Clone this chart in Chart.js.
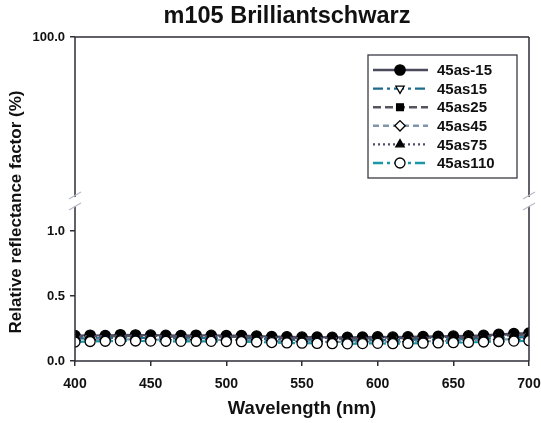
<!DOCTYPE html>
<html>
<head>
<meta charset="utf-8">
<script src="https://cdn.jsdelivr.net/npm/chart.js@4.4.1/dist/chart.umd.min.js"></script>
<style>
  html, body { margin: 0; padding: 0; background: #fff; }
  #wrap { width: 541px; height: 423px; position: relative; }
</style>
</head>
<body>
<div id="wrap"><canvas id="c" width="541" height="423"></canvas></div>
<script>
// Wavelengths (nm)
const wavelengths = [400, 410, 420, 430, 440, 450, 460, 470, 480, 490, 500, 510, 520, 530, 540, 550,
                     560, 570, 580, 590, 600, 610, 620, 630, 640, 650, 660, 670, 680, 690, 700];

// Relative reflectance factor per measurement geometry
const as_m15 = [0.195, 0.198, 0.196, 0.202, 0.200, 0.199, 0.197, 0.196, 0.198, 0.197, 0.195, 0.196, 0.192, 0.188, 0.186, 0.184,
                0.183, 0.182, 0.181, 0.183, 0.186, 0.184, 0.186, 0.188, 0.190, 0.191, 0.193, 0.197, 0.205, 0.210, 0.214];
const as_15  = [0.172, 0.176, 0.175, 0.179, 0.178, 0.177, 0.175, 0.174, 0.176, 0.175, 0.173, 0.173, 0.170, 0.166, 0.164, 0.162,
                0.160, 0.159, 0.158, 0.160, 0.162, 0.160, 0.162, 0.164, 0.166, 0.167, 0.169, 0.172, 0.178, 0.182, 0.185];
const as_25  = [0.185, 0.189, 0.187, 0.192, 0.191, 0.190, 0.188, 0.187, 0.189, 0.188, 0.186, 0.186, 0.183, 0.179, 0.177, 0.175,
                0.173, 0.172, 0.171, 0.173, 0.176, 0.174, 0.176, 0.178, 0.180, 0.181, 0.183, 0.187, 0.194, 0.199, 0.203];
const as_45  = [0.160, 0.164, 0.164, 0.167, 0.166, 0.165, 0.164, 0.163, 0.164, 0.163, 0.162, 0.161, 0.158, 0.154, 0.152, 0.150,
                0.148, 0.147, 0.146, 0.148, 0.150, 0.147, 0.149, 0.151, 0.153, 0.155, 0.157, 0.160, 0.165, 0.168, 0.171];
const as_75  = [0.190, 0.193, 0.191, 0.197, 0.195, 0.194, 0.192, 0.191, 0.193, 0.192, 0.190, 0.191, 0.187, 0.183, 0.181, 0.179,
                0.178, 0.177, 0.176, 0.178, 0.181, 0.179, 0.181, 0.183, 0.185, 0.186, 0.188, 0.192, 0.200, 0.205, 0.209];
const as_110 = [0.146, 0.150, 0.152, 0.155, 0.154, 0.153, 0.152, 0.151, 0.152, 0.151, 0.150, 0.149, 0.146, 0.142, 0.139, 0.137,
                0.135, 0.133, 0.132, 0.134, 0.136, 0.133, 0.135, 0.137, 0.139, 0.141, 0.143, 0.146, 0.150, 0.153, 0.156];

const seriesNames = ['45as-15', '45as15', '45as25', '45as45', '45as75', '45as110'];
const lowerTicks = [0.0, 0.5, 1.0];
const upperTicks = [100.0];
const xTicks = [400, 450, 500, 550, 600, 650, 700];

const FONT = "'Liberation Sans', Arial, Helvetica, sans-serif";
const AXIS = '#2e2e36';

function pts(vals) { return wavelengths.map((w, i) => ({ x: w, y: vals[i] })); }

const styles = [
  { data: as_m15, color: '#4a4a5c', dash: [],            point: 'circle',   rot: 0,   fill: '#000000', r: 5.2, order: 5 },
  { data: as_15,  color: '#1f6b8c', dash: [10, 4, 3, 4], point: 'triangle', rot: 180, fill: '#ffffff', r: 4.8, order: 4 },
  { data: as_25,  color: '#55555f', dash: [8, 4],        point: 'rect',     rot: 0,   fill: '#000000', r: 4.8, order: 3 },
  { data: as_45,  color: '#7f95a9', dash: [6, 4],        point: 'rectRot',  rot: 0,   fill: '#ffffff', r: 5.2, order: 2 },
  { data: as_75,  color: '#4c4c6e', dash: [2, 3],        point: 'triangle', rot: 0,   fill: '#000000', r: 4.8, order: 1 },
  { data: as_110, color: '#1a98a8', dash: [10, 4, 3, 4], point: 'circle',   rot: 0,   fill: '#ffffff', r: 5.0, order: 0 }
];

const datasets = styles.map((s, i) => ({
  label: seriesNames[i],
  data: pts(s.data),
  yAxisID: 'y',
  borderColor: s.color,
  borderWidth: 2.2,
  borderDash: s.dash,
  pointStyle: s.point,
  pointRotation: s.rot,
  pointRadius: s.r,
  pointBackgroundColor: s.fill,
  pointBorderColor: '#000000',
  pointBorderWidth: 1.3,
  tension: 0,
  order: s.order
}));

// Frame, axis break marks, titles and legend
const decor = {
  id: 'decor',
  afterDraw(chart) {
    const ctx = chart.ctx;
    const a = chart.chartArea;
    const yl = chart.scales.y;
    const breakY = yl.top;
    const gapTop = breakY - 8, gapBot = breakY + 1;
    ctx.save();
    ctx.strokeStyle = AXIS;
    ctx.lineWidth = 1.5;
    ctx.beginPath();
    // top edge
    ctx.moveTo(a.left, a.top); ctx.lineTo(a.right, a.top);
    // bottom edge
    ctx.moveTo(a.left, a.bottom); ctx.lineTo(a.right, a.bottom);
    // left and right edges, interrupted at the break
    [a.left, a.right].forEach(x => {
      ctx.moveTo(x, a.top); ctx.lineTo(x, gapTop);
      ctx.moveTo(x, gapBot); ctx.lineTo(x, a.bottom);
    });
    ctx.stroke();

    // break slashes
    ctx.strokeStyle = '#b9bcc8';
    ctx.lineWidth = 1.4;
    ctx.beginPath();
    [a.left, a.right].forEach(x => {
      ctx.moveTo(x - 6, gapTop + 2); ctx.lineTo(x + 6, gapTop - 5);
      ctx.moveTo(x - 6, gapBot + 4); ctx.lineTo(x + 6, gapBot - 3);
    });
    ctx.stroke();

    // chart title
    ctx.fillStyle = '#111';
    ctx.font = 'bold 23.5px ' + FONT;
    ctx.textAlign = 'center';
    ctx.textBaseline = 'middle';
    ctx.fillText('m105 Brilliantschwarz', 287, 17);

    // axis titles
    ctx.font = 'bold 18.5px ' + FONT;
    ctx.fillText('Wavelength (nm)', (a.left + a.right) / 2, 409);
    ctx.font = 'bold 17px ' + FONT;
    ctx.save();
    ctx.translate(16, 212);
    ctx.rotate(-Math.PI / 2);
    ctx.fillText('Relative reflectance factor (%)', 0, 0);
    ctx.restore();

    // legend
    const lx = 368, ly = 55, lw = 149, lh = 123;
    ctx.fillStyle = '#fff';
    ctx.fillRect(lx, ly, lw, lh);
    ctx.strokeStyle = '#3a3a44';
    ctx.lineWidth = 1.3;
    ctx.strokeRect(lx, ly, lw, lh);
    chart.data.datasets.forEach((ds, i) => {
      const yy = 70 + i * 18.6;
      ctx.save();
      ctx.strokeStyle = ds.borderColor;
      ctx.lineWidth = 2.4;
      ctx.setLineDash(ds.borderDash);
      ctx.beginPath();
      ctx.moveTo(373, yy); ctx.lineTo(428, yy);
      ctx.stroke();
      ctx.restore();
      ctx.save();
      ctx.fillStyle = ds.pointBackgroundColor;
      ctx.strokeStyle = '#000';
      ctx.lineWidth = 1.3;
      Chart.helpers.drawPoint(ctx, {
        pointStyle: ds.pointStyle, radius: ds.pointRadius, rotation: ds.pointRotation, borderWidth: 1.3
      }, 400, yy);
      ctx.restore();
      ctx.fillStyle = '#111';
      ctx.font = 'bold 15px ' + FONT;
      ctx.textAlign = 'left';
      ctx.textBaseline = 'middle';
      ctx.fillText(ds.label, 437, yy + 1);
    });
    ctx.restore();
  }
};

const tickFont = size => ({ family: FONT, size: size, weight: 'bold' });

new Chart(document.getElementById('c'), {
  type: 'line',
  data: { datasets },
  options: {
    responsive: false,
    animation: false,
    events: [],
    layout: { padding: { left: 0, right: 12, top: 37, bottom: 0 } },
    plugins: { legend: { display: false }, title: { display: false }, tooltip: { enabled: false } },
    scales: {
      x: {
        type: 'linear', min: 400, max: 700,
        afterBuildTicks: s => { s.ticks = xTicks.map(v => ({ value: v })); },
        afterFit: s => { s.height = 62; s.paddingLeft = 0; s.paddingRight = 0; },
        border: { display: false },
        grid: { drawOnChartArea: false, drawTicks: true, tickLength: 5, tickColor: AXIS, lineWidth: 1.5 },
        ticks: { color: '#111', font: tickFont(14), padding: 10, maxRotation: 0 }
      },
      y: {
        type: 'linear', position: 'left', stack: 'v', stackWeight: 156, weight: 0,
        min: 0, max: 1.2,
        afterBuildTicks: s => { s.ticks = lowerTicks.map(v => ({ value: v })); },
        afterFit: s => { s.width = 75; s.paddingTop = 0; s.paddingBottom = 0; },
        border: { display: false },
        grid: { drawOnChartArea: false, drawTicks: true, tickLength: 5, tickColor: AXIS, lineWidth: 1.5 },
        ticks: { color: '#111', font: tickFont(13), padding: 5, callback: v => v.toFixed(1) }
      },
      yTop: {
        type: 'linear', position: 'left', stack: 'v', stackWeight: 168, weight: 1,
        min: 1.2, max: 100,
        afterBuildTicks: s => { s.ticks = upperTicks.map(v => ({ value: v })); },
        afterFit: s => { s.width = 75; s.paddingTop = 0; s.paddingBottom = 0; },
        border: { display: false },
        grid: { drawOnChartArea: false, drawTicks: true, tickLength: 5, tickColor: AXIS, lineWidth: 1.5 },
        ticks: { color: '#111', font: tickFont(13), padding: 5, callback: v => v.toFixed(1) }
      }
    }
  },
  plugins: [decor]
});
</script>
</body>
</html>
